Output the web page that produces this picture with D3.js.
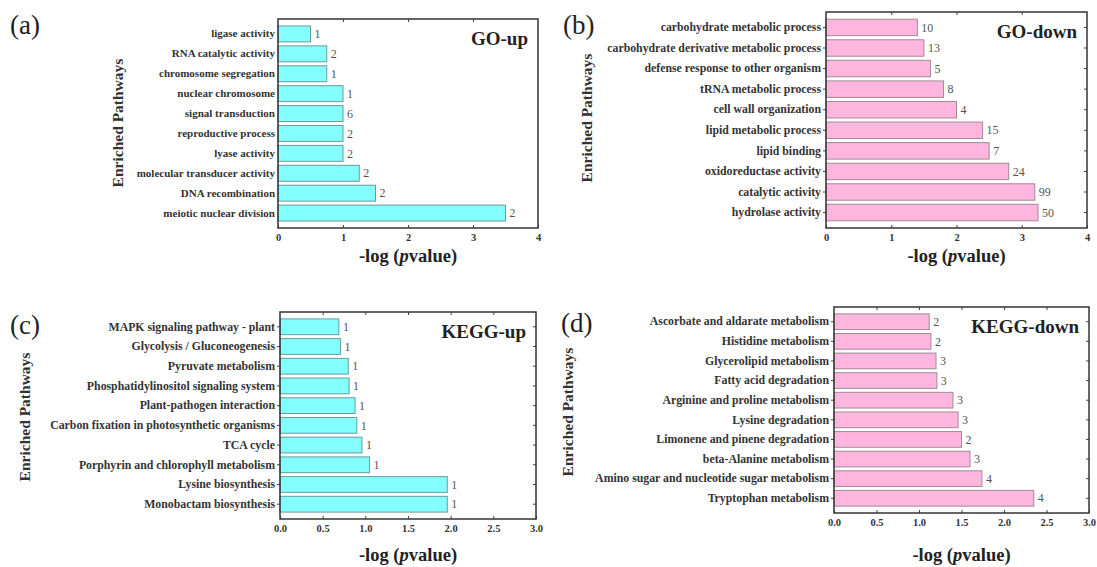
<!DOCTYPE html>
<html>
<head>
<meta charset="utf-8">
<script src="https://cdn.jsdelivr.net/npm/d3@7"></script>
<style>
  body { margin: 0; background: #fff; }
  text { font-family: "Liberation Serif", "Times New Roman", serif; }
</style>
</head>
<body>
<div id="chart"></div>
<script>
// panel (a) GO-up
const goUpTerms = ["ligase activity", "RNA catalytic activity", "chromosome segregation", "nuclear chromosome",
  "signal transduction", "reproductive process", "lyase activity", "molecular transducer activity",
  "DNA recombination", "meiotic nuclear division"];
const goUpValues = [0.5, 0.75, 0.75, 1.0, 1.0, 1.0, 1.0, 1.25, 1.5, 3.5];
const goUpCounts = [1, 2, 1, 1, 6, 2, 2, 2, 2, 2];

// panel (b) GO-down
const goDownTerms = ["carbohydrate metabolic process", "carbohydrate derivative metabolic process",
  "defense response to other organism", "tRNA metabolic process", "cell wall organization",
  "lipid metabolic process", "lipid binding", "oxidoreductase activity", "catalytic activity", "hydrolase activity"];
const goDownValues = [1.4, 1.5, 1.6, 1.8, 2.0, 2.4, 2.5, 2.8, 3.2, 3.25];
const goDownCounts = [10, 13, 5, 8, 4, 15, 7, 24, 99, 50];

// panel (c) KEGG-up
const keggUpTerms = ["MAPK signaling pathway - plant", "Glycolysis / Gluconeogenesis", "Pyruvate metabolism",
  "Phosphatidylinositol signaling system", "Plant-pathogen interaction", "Carbon fixation in photosynthetic organisms",
  "TCA cycle", "Porphyrin and chlorophyll metabolism", "Lysine biosynthesis", "Monobactam biosynthesis"];
const keggUpValues = [0.69, 0.71, 0.8, 0.81, 0.88, 0.9, 0.96, 1.05, 1.96, 1.96];
const keggUpCounts = [1, 1, 1, 1, 1, 1, 1, 1, 1, 1];

// panel (d) KEGG-down
const keggDownTerms = ["Ascorbate and aldarate metabolism", "Histidine metabolism", "Glycerolipid metabolism",
  "Fatty acid degradation", "Arginine and proline metabolism", "Lysine degradation",
  "Limonene and pinene degradation", "beta-Alanine metabolism", "Amino sugar and nucleotide sugar metabolism",
  "Tryptophan metabolism"];
const keggDownValues = [1.12, 1.14, 1.2, 1.21, 1.4, 1.46, 1.5, 1.6, 1.74, 2.35];
const keggDownCounts = [2, 2, 3, 3, 3, 3, 2, 3, 4, 4];

const goTicks = [0, 1, 2, 3, 4];
const keggTicks = [0, 0.5, 1.0, 1.5, 2.0, 2.5, 3.0];

const cyan = "#84FFFF";
const pink = "#FFB6DE";

const panels = [
  { tag: "(a)", title: "GO-up", terms: goUpTerms, values: goUpValues, counts: goUpCounts,
    ticks: goTicks, fmt: d3.format("d"), fill: cyan, stroke: "#6a9a9a", labelSize: 11,
    x0: 278, x1: 538, y0: 19, y1: 228, tagX: 10, tagY: 34, ylabX: 123, ylabY: 123, yTicks: false, titleY: 256 },
  { tag: "(b)", title: "GO-down", terms: goDownTerms, values: goDownValues, counts: goDownCounts,
    ticks: goTicks, fmt: d3.format("d"), fill: pink, stroke: "#a08a96", labelSize: 11.8,
    x0: 826, x1: 1087, y0: 12, y1: 228, tagX: 563, tagY: 34, ylabX: 592, ylabY: 118, yTicks: true, titleY: 256 },
  { tag: "(c)", title: "KEGG-up", terms: keggUpTerms, values: keggUpValues, counts: keggUpCounts,
    ticks: keggTicks, fmt: d3.format(".1f"), fill: cyan, stroke: "#6a9a9a", labelSize: 11.8,
    x0: 280, x1: 536, y0: 312, y1: 519, tagX: 10, tagY: 334, ylabX: 30, ylabY: 417, yTicks: true, titleY: 555 },
  { tag: "(d)", title: "KEGG-down", terms: keggDownTerms, values: keggDownValues, counts: keggDownCounts,
    ticks: keggTicks, fmt: d3.format(".1f"), fill: pink, stroke: "#a08a96", labelSize: 11.8,
    x0: 834, x1: 1089, y0: 307, y1: 513, tagX: 561, tagY: 332, ylabX: 573, ylabY: 412, yTicks: true, titleY: 555 }
];

const svg = d3.select("#chart").append("svg")
  .attr("width", 1097)
  .attr("height", 567);

panels.forEach(p => {
  const g = svg.append("g");

  const x = d3.scaleLinear()
    .domain([p.ticks[0], p.ticks[p.ticks.length - 1]])
    .range([p.x0, p.x1]);

  const y = d3.scaleBand()
    .domain(p.terms)
    .range([p.y0, p.y1])
    .paddingInner(0.2)
    .paddingOuter(0.35);

  // bars
  g.selectAll("rect.bar")
    .data(p.terms)
    .enter().append("rect")
    .attr("class", "bar")
    .attr("x", x(0))
    .attr("y", d => y(d))
    .attr("width", (d, i) => x(p.values[i]) - x(0))
    .attr("height", y.bandwidth())
    .attr("fill", p.fill)
    .attr("stroke", p.stroke)
    .attr("stroke-width", 1);

  // count labels
  g.selectAll("text.count")
    .data(p.terms)
    .enter().append("text")
    .attr("class", "count")
    .attr("x", (d, i) => x(p.values[i]) + 4)
    .attr("y", d => y(d) + y.bandwidth() / 2)
    .attr("dy", "0.35em")
    .attr("font-size", "12px")
    .attr("fill", "#555")
    .text((d, i) => p.counts[i]);

  // y axis (category labels)
  const yAxis = d3.axisLeft(y).tickSize(p.yTicks ? 3 : 0).tickPadding(p.yTicks ? 2 : 3);
  const ya = g.append("g")
    .attr("transform", `translate(${p.x0},0)`)
    .call(yAxis);
  ya.select(".domain").remove();
  ya.selectAll("line").attr("stroke", "#444");
  ya.selectAll("text")
    .attr("font-weight", "bold")
    .attr("font-size", p.labelSize + "px")
    .attr("fill", "#333");

  if (p.yTicks) {
    const yr = g.append("g")
      .attr("transform", `translate(${p.x1},0)`)
      .call(d3.axisLeft(y).tickSize(3).tickFormat(""));
    yr.select(".domain").remove();
    yr.selectAll("line").attr("stroke", "#444");
  }

  // x axis
  const xa = g.append("g")
    .attr("transform", `translate(0,${p.y1})`)
    .call(d3.axisBottom(x).tickValues(p.ticks).tickFormat(p.fmt).tickSize(-3).tickPadding(6));
  xa.select(".domain").remove();
  xa.selectAll("line").attr("stroke", "#444");
  xa.selectAll("text")
    .attr("font-weight", "bold")
    .attr("font-size", "10.5px")
    .attr("fill", "#333");

  const xt = g.append("g")
    .attr("transform", `translate(0,${p.y0})`)
    .call(d3.axisTop(x).tickValues(p.ticks.slice(1, -1)).tickFormat("").tickSize(-3));
  xt.select(".domain").remove();
  xt.selectAll("line").attr("stroke", "#444");

  // frame
  g.append("rect")
    .attr("x", p.x0)
    .attr("y", p.y0)
    .attr("width", p.x1 - p.x0)
    .attr("height", p.y1 - p.y0)
    .attr("fill", "none")
    .attr("stroke", "#333")
    .attr("stroke-width", 1.5);

  // panel title inside
  g.append("text")
    .attr("x", p.x1 - 10)
    .attr("y", p.y0 + 26)
    .attr("text-anchor", "end")
    .attr("font-weight", "bold")
    .attr("font-size", "19px")
    .attr("fill", "#222")
    .text(p.title);

  // tag
  g.append("text")
    .attr("x", p.tagX)
    .attr("y", p.tagY)
    .attr("font-size", "27px")
    .attr("fill", "#222")
    .text(p.tag);

  // y axis title
  g.append("text")
    .attr("transform", `translate(${p.ylabX},${p.ylabY}) rotate(-90)`)
    .attr("text-anchor", "middle")
    .attr("font-weight", "bold")
    .attr("font-size", "15.5px")
    .attr("fill", "#333")
    .text("Enriched Pathways");

  // x axis title
  const xl = g.append("text")
    .attr("x", (p.x0 + p.x1) / 2)
    .attr("y", p.titleY)
    .attr("dy", "0.35em")
    .attr("text-anchor", "middle")
    .attr("font-weight", "bold")
    .attr("font-size", "18.5px")
    .attr("fill", "#222");
  xl.append("tspan").text("-log (");
  xl.append("tspan").attr("font-style", "italic").text("p");
  xl.append("tspan").text("value)");
});
</script>
</body>
</html>
